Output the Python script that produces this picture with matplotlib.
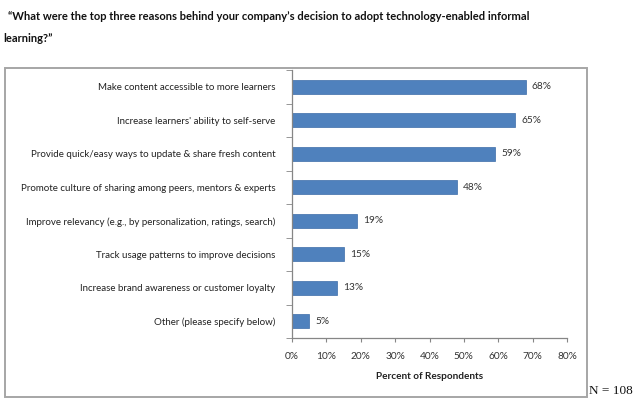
import matplotlib
matplotlib.use("Agg")
import matplotlib.pyplot as plt
from matplotlib.patches import Rectangle
import numpy as np

categories = [
    "Make content accessible to more learners",
    "Increase learners' ability to self-serve",
    "Provide quick/easy ways to update & share fresh content",
    "Promote culture of sharing among peers, mentors & experts",
    "Improve relevancy (e.g., by personalization, ratings, search)",
    "Track usage patterns to improve decisions",
    "Increase brand awareness or customer loyalty",
    "Other (please specify below)",
]
values = [68, 65, 59, 48, 19, 15, 13, 5]
xticks = [0, 10, 20, 30, 40, 50, 60, 70, 80]

FONT = ["Lato", "DejaVu Sans"]
plt.rcParams['font.family'] = FONT

fig = plt.figure(figsize=(6.4, 4.03), dpi=100)
fig.patch.set_facecolor("white")

# outer chart border
fig.patches.append(Rectangle((5/640, 1-397/403), 582/640, 329/403, transform=fig.transFigure,
                             fill=False, edgecolor="#A6A6A6", linewidth=1.4))

ax = fig.add_axes([292/640, 1-338/403, 275/640, 268/403])
y = np.arange(len(categories))
ax.barh(y, values, height=0.42, color="#4F81BD", edgecolor="#3D6DA8", linewidth=0.5)
ax.set_ylim(len(categories)-0.5, -0.5)
ax.set_xlim(0, 80)
ax.set_xticks(xticks)
ax.set_xticklabels([f"{t}%" for t in xticks], fontsize=7.3, color="#333333")
ax.set_yticks(y)
ax.set_yticklabels(categories, fontsize=7.0, color="#222222")
ax.set_yticks(np.arange(len(categories)+1) - 0.5, minor=True)
ax.tick_params(axis="y", which="major", length=0, pad=12)
ax.tick_params(axis="y", which="minor", length=4, color="#868686", direction="out")
ax.tick_params(axis="x", length=3, color="#868686", direction="out", pad=7)
for s in ["top", "right"]:
    ax.spines[s].set_visible(False)
for s in ["left", "bottom"]:
    ax.spines[s].set_color("#868686")
    ax.spines[s].set_linewidth(0.9)

for yi, v in zip(y, values):
    ax.text(v + 1.8, yi, f"{v}%", va="center", ha="left", fontsize=7.3, color="#333333")

ax.set_xlabel("Percent of Respondents", fontsize=7.2, fontweight="bold", color="#222222", labelpad=8)

fig.text(8/640, 1-16/403, "\u201cWhat were the top three reasons behind your company\u2019s decision to adopt technology-enabled informal",
         fontsize=8.0, fontweight="bold", color="#111111", va="center", ha="left")
fig.text(3/640, 1-38/403, "learning?\u201d", fontsize=8.0, fontweight="bold", color="#111111", va="center", ha="left")
fig.text(589/640, 1-391/403, "N = 108", fontsize=9.5, family=["Liberation Serif"], color="#111111",
         va="center", ha="left")

fig.savefig("out.png", dpi=100)
